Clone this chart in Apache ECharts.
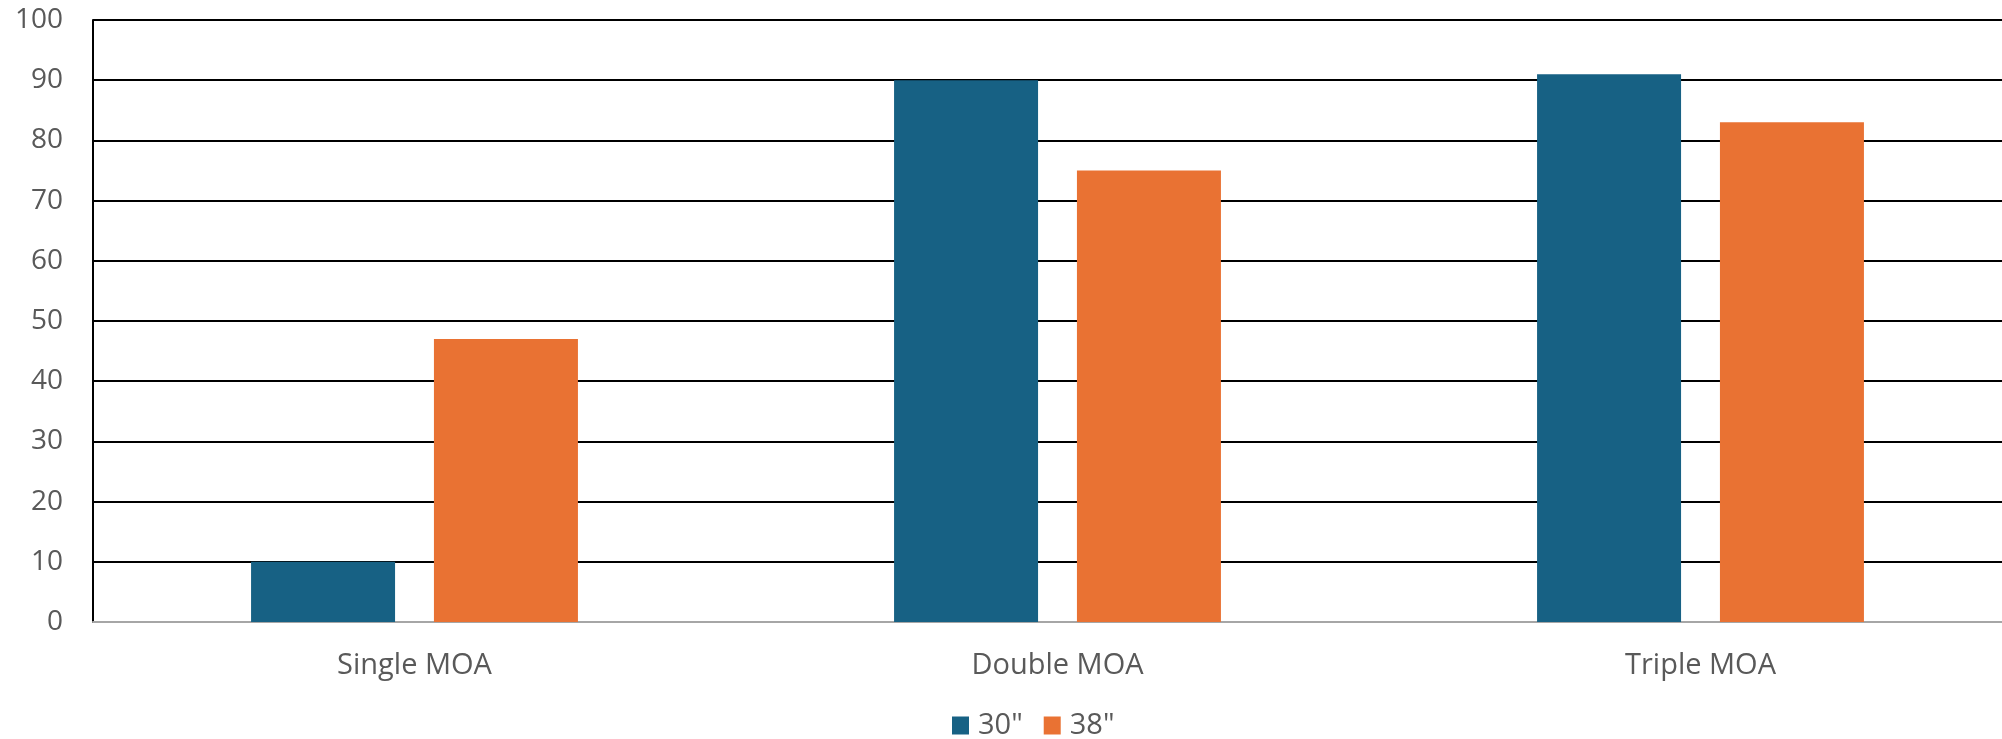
<!DOCTYPE html>
<html>
<head>
<meta charset="utf-8">
<script src="https://cdn.jsdelivr.net/npm/echarts@6/dist/echarts.min.js"></script>
<style>
html,body{margin:0;padding:0;background:#fff;}
#chart{width:2002px;height:739px;}
</style>
</head>
<body>
<div id="chart"></div>
<script>
const categories = ["Single MOA", "Double MOA", "Triple MOA"];
const seriesNames = ["30\"", "38\""];
const values30 = [10, 90, 91];
const values38 = [47, 75, 83];
const yTicks = [0, 10, 20, 30, 40, 50, 60, 70, 80, 90, 100];

const FONT = "'Open Sans', sans-serif";
const chart = echarts.init(document.getElementById('chart'));
chart.setOption({
  animation: false,
  backgroundColor: '#ffffff',
  textStyle: { fontFamily: FONT },
  legend: {
    data: seriesNames,
    top: 706,
    left: 947,
    icon: 'rect',
    itemWidth: 17,
    itemHeight: 18,
    itemGap: 21,
    textStyle: { color: '#595959', fontSize: 29, fontFamily: FONT, padding: [0, 0, 0, 4] }
  },
  grid: { left: 93, width: 1929, top: 20, height: 602, outerBoundsMode: 'none', containLabel: false },
  xAxis: {
    type: 'category',
    data: categories,
    z: 1,
    axisLine: { show: true, lineStyle: { color: '#A6A6A6', width: 2 } },
    axisTick: { show: false },
    axisLabel: { color: '#595959', fontSize: 29, fontFamily: FONT, margin: 29 }
  },
  yAxis: {
    type: 'value',
    min: yTicks[0],
    max: yTicks[yTicks.length - 1],
    interval: 10,
    axisLine: { show: true, lineStyle: { color: '#000000', width: 2 } },
    axisTick: { show: false },
    axisLabel: { color: '#595959', fontSize: 28, fontFamily: FONT, margin: 30 },
    splitLine: { show: true, lineStyle: { color: '#000000', width: 2 } }
  },
  series: [
    {
      name: seriesNames[0],
      type: 'bar',
      data: values30,
      barWidth: 144,
      barGap: '27%',
      itemStyle: { color: '#176184' }
    },
    {
      name: seriesNames[1],
      type: 'bar',
      data: values38,
      barWidth: 144,
      barGap: '27%',
      itemStyle: { color: '#E97233' }
    }
  ]
});
</script>
</body>
</html>
